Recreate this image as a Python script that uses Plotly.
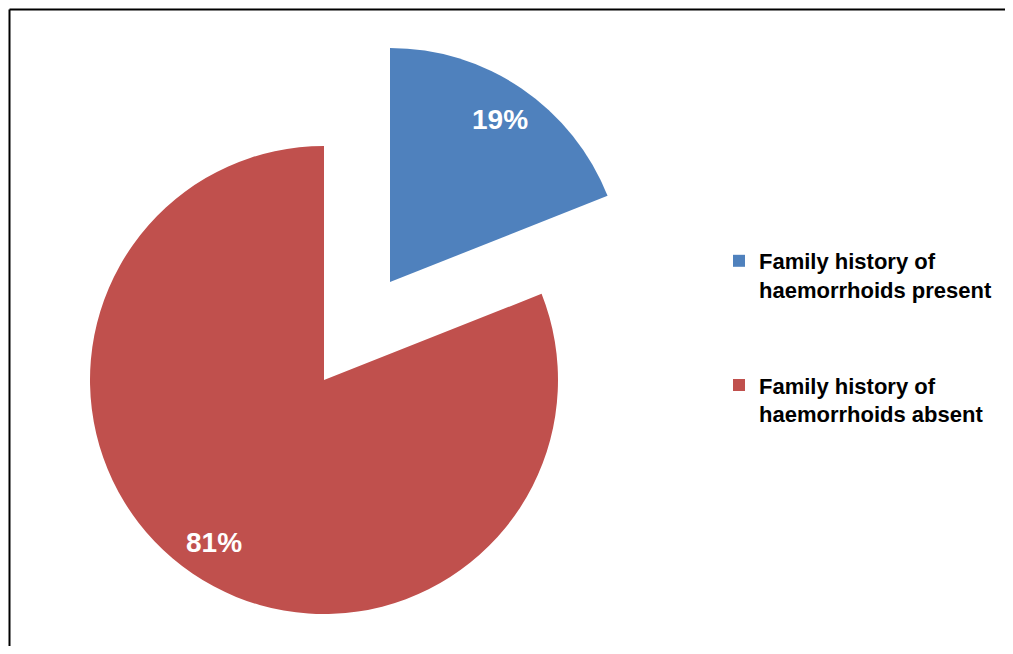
import math
import plotly.graph_objects as go

# ---- data ----
labels = ["Family history of<br>haemorrhoids present", "Family history of<br>haemorrhoids absent"]
values = [19, 81]
colors = ["#4F81BD", "#C0504D"]

# ---- layout geometry (figure pixels; page has an 8px body margin) ----
W, H = 997, 638
R = 234
centers = [(382, 274), (316, 372)]  # slice 0 is pulled out
LABEL_FRAC = 0.84


def dom(cx, cy, r):
    return dict(x=[(cx - r) / W, (cx + r) / W], y=[1 - (cy + r) / H, 1 - (cy - r) / H])


fig = go.Figure()
total = sum(values)
cum = 0
for i in range(len(values)):
    cols = [colors[j] if j == i else "rgba(0,0,0,0)" for j in range(len(values))]
    fig.add_trace(go.Pie(
        labels=labels, values=values, sort=False, direction="clockwise", rotation=0,
        marker=dict(colors=cols, line=dict(width=0)),
        textinfo="none", domain=dom(centers[i][0], centers[i][1], R),
        showlegend=False, hoverinfo="skip",
    ))
    # percentage label placed along the slice's mid-angle
    a = 2 * math.pi * (cum + values[i] / 2) / total
    px = centers[i][0] + LABEL_FRAC * R * math.sin(a)
    py = centers[i][1] - LABEL_FRAC * R * math.cos(a)
    fig.add_annotation(
        x=px / W, y=1 - py / H, xref="paper", yref="paper", showarrow=False,
        text=f"{round(100 * values[i] / total)}%",
        font=dict(family="Liberation Sans, Arial", size=28, color="white", weight="bold"),
        xanchor="center", yanchor="middle",
    )
    cum += values[i]

for i in range(len(values)):
    fig.add_trace(go.Scatter(
        x=[None], y=[None], mode="markers", name=labels[i], legendgroup=str(i),
        marker=dict(symbol="square", size=12, color=colors[i]),
    ))

# chart border (top and left edges visible in the crop)
fig.add_shape(type="line", xref="paper", yref="paper", x0=1.5 / W, x1=1.0, y0=1 - 1.5 / H, y1=1 - 1.5 / H,
              line=dict(color="black", width=2))
fig.add_shape(type="line", xref="paper", yref="paper", x0=1.5 / W, x1=1.5 / W, y0=0, y1=1 - 1.5 / H,
              line=dict(color="black", width=2))

fig.update_layout(
    width=W, height=H, margin=dict(l=0, r=0, t=0, b=0),
    paper_bgcolor="white", plot_bgcolor="white",
    xaxis=dict(visible=False), yaxis=dict(visible=False),
    showlegend=True,
    legend=dict(x=711 / W, y=1 - 232 / H, xanchor="left", yanchor="top",
                font=dict(family="Liberation Sans, Arial", size=22, color="black", weight="bold"),
                tracegroupgap=64, valign="top", bgcolor="rgba(0,0,0,0)"),
)

fig.write_html("out.html")
